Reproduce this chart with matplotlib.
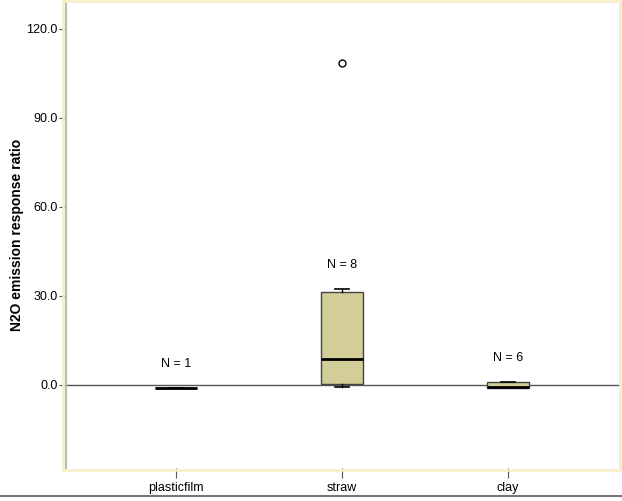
import matplotlib
matplotlib.use('Agg')
from matplotlib import pyplot as plt
from matplotlib.patches import Rectangle

plt.rcParams['font.family'] = ['Liberation Sans', 'DejaVu Sans']

# datos de las cajas
grupos = ['plasticfilm', 'straw', 'clay']
n_obs = [1, 8, 6]
minimos = [-0.9, -0.6, -1.0]
q1 = [-0.9, 0.3, -1.0]
medianas = [-0.9, 8.7, -0.8]
q3 = [-0.9, 31.4, 1.1]
maximos = [-0.9, 32.4, 1.1]
atipicos = [[], [108.5], []]
yticks = [0.0, 30.0, 60.0, 90.0, 120.0]

fig = plt.figure(figsize=(6.22, 5.01), dpi=100)
ax = fig.add_axes([66/622, 33/501, 554/622, 466/501])

stats = []
for i in range(len(grupos)):
    stats.append(dict(label=grupos[i], whislo=minimos[i], q1=q1[i], med=medianas[i],
                      q3=q3[i], whishi=maximos[i], fliers=atipicos[i]))

ax.axhline(0, color='#555555', lw=1, zorder=1)
ax.bxp(stats, positions=[1, 2, 3], widths=0.25, patch_artist=True,
       boxprops=dict(facecolor='#D3CE97', edgecolor='#444444', lw=1),
       medianprops=dict(color='black', lw=2),
       whiskerprops=dict(color='black', lw=1),
       capprops=dict(color='black', lw=1.2),
       capwidths=0.08,
       flierprops=dict(marker='o', markerfacecolor='white', markeredgecolor='black',
                       markersize=5), zorder=2)

for i in range(len(grupos)):
    ax.annotate('N = %d' % n_obs[i], xy=(i + 1, maximos[i]), xytext=(0, 17),
                textcoords='offset points', ha='center', va='center', fontsize=9)

ax.set_xlim(0.337, 3.675)
ax.set_ylim(-28.0, 129.1)
ax.set_xticks([1, 2, 3])
ax.set_xticklabels(grupos, fontsize=9)
ax.set_yticks(yticks)
ax.set_yticklabels(['%.1f' % v for v in yticks], fontsize=9)
ax.tick_params(axis='y', direction='out', length=5, color='#555555', pad=1)
ax.tick_params(axis='x', direction='out', length=7, color='#555555', pad=3)
fig.text(17/622, 0.5 + 16/501, 'N2O emission response ratio', rotation=90,
         ha='center', va='center', fontsize=10, fontweight='bold')

ax.spines['left'].set_color('#BBBBBB')
ax.spines['left'].set_linewidth(1.5)
for s in ['top', 'right', 'bottom']:
    ax.spines[s].set_visible(False)

# marco amarillo alrededor del area del grafico
marco = Rectangle((63/622, 31/501), 557/622, 469/501, transform=fig.transFigure,
                  fill=False, edgecolor='#F5EEC4', lw=1.8)
fig.add_artist(marco)
fig.add_artist(plt.Line2D([0, 1], [5/501, 5/501], transform=fig.transFigure,
                          color='#777777', lw=1.5))

plt.savefig('out.png', dpi=100)
